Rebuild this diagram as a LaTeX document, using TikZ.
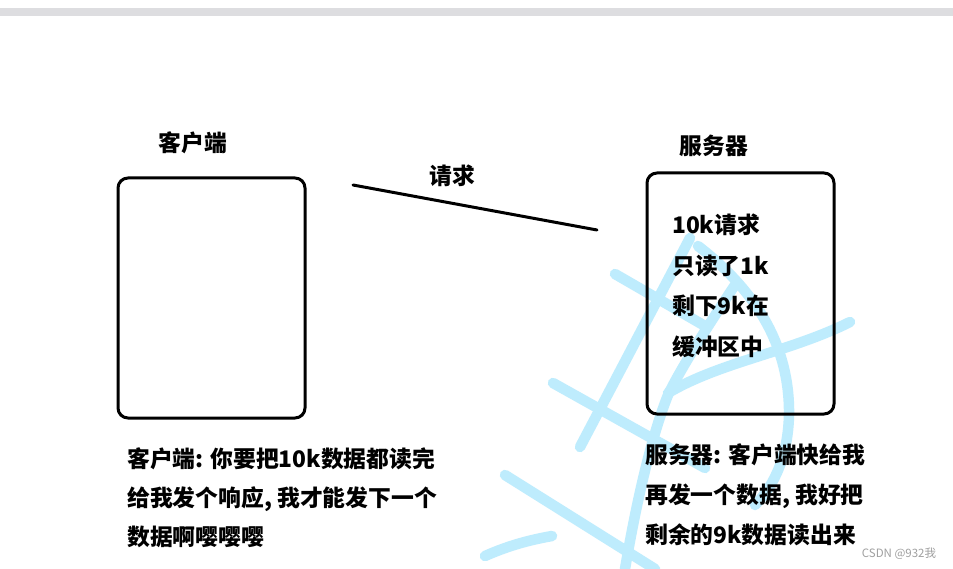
\documentclass[tikz,border=0pt]{standalone}
\usepackage{fontspec}
\newfontfamily\cjk{Noto Sans CJK SC}
\definecolor{wmblue}{RGB}{190,236,253}
\definecolor{barcol}{RGB}{221,221,224}
\definecolor{csdngray}{RGB}{160,160,160}
\begin{document}
\begin{tikzpicture}[x=1pt,y=-1pt,
  wm/.style={line width=10.5pt,draw=wmblue,line cap=round,line join=round},
  boxnode/.style={draw=black,line width=3pt,rounded corners=10pt,minimum width=187pt,inner sep=0pt},
  lbl/.style={font=\cjk\bfseries\fontsize{22.8}{26}\selectfont,inner sep=0pt,text=black},
  txt/.style={lbl,anchor=base west},
  csdn/.style={font=\cjk\fontsize{11.5}{13}\selectfont,text=csdngray,inner sep=0pt}]
\useasboundingbox (0,0) rectangle (953,569);
\fill[white] (0,0) rectangle (953,569);
\fill[barcol] (0,8) rectangle (953,16);
% watermark strokes
\draw[wm] (690,238) -- (580,447);
\draw[wm] (698,246) .. controls (755,290) and (790,345) .. (789,415) .. controls (788,455) and (775,485) .. (755,505);
\draw[wm] (737,282) .. controls (705,330) and (680,370) .. (668,395) .. controls (650,440) and (635,510) .. (625,569);
\draw[wm] (668,393) .. controls (720,362) and (790,352) .. (850,322);
\draw[wm] (615,274) -- (705,326);
\draw[wm] (553,383) -- (705,468);
\draw[wm] (505,475) -- (655,569);
\draw[wm] (485,556) .. controls (510,545) and (530,540) .. (552,536);
% boxes
\node[boxnode,minimum height=240pt] (client) at (211.5,298) {};
\node[boxnode,minimum height=241pt] (server) at (740.5,293.5) {};
% titles
\node[lbl] (clienttitle) at (193,143) {客户端};
\node[lbl] (servertitle) at (714,146) {服务器};
\node[lbl] (reqlabel) at (452,176) {请求};
% request line
\coordinate (reqstart) at (353,185);
\coordinate (reqend) at (597,230);
\draw[line width=3pt,line cap=round] (reqstart) -- (reqend);
% server box text
\node[txt] (s1) at (672,234) {10k请求};
\node[txt] (s2) at (672,275) {只读了1k};
\node[txt] (s3) at (672,315) {剩下9k在};
\node[txt] (s4) at (672,355) {缓冲区中};
% client bottom text
\node[txt] (c1) at (127,467) {客户端: 你要把10k数据都读完};
\node[txt] (c2) at (127,506) {给我发个响应, 我才能发下一个};
\node[txt] (c3) at (127,545) {数据啊嘤嘤嘤};
% server bottom text
\node[txt] (b1) at (645,463) {服务器: 客户端快给我};
\node[txt] (b2) at (645,503) {再发一个数据, 我好把};
\node[txt] (b3) at (645,543) {剩余的9k数据读出来};
% csdn mark
\node[csdn] (mark) at (899,554) {CSDN @932我};
\end{tikzpicture}
\end{document}
